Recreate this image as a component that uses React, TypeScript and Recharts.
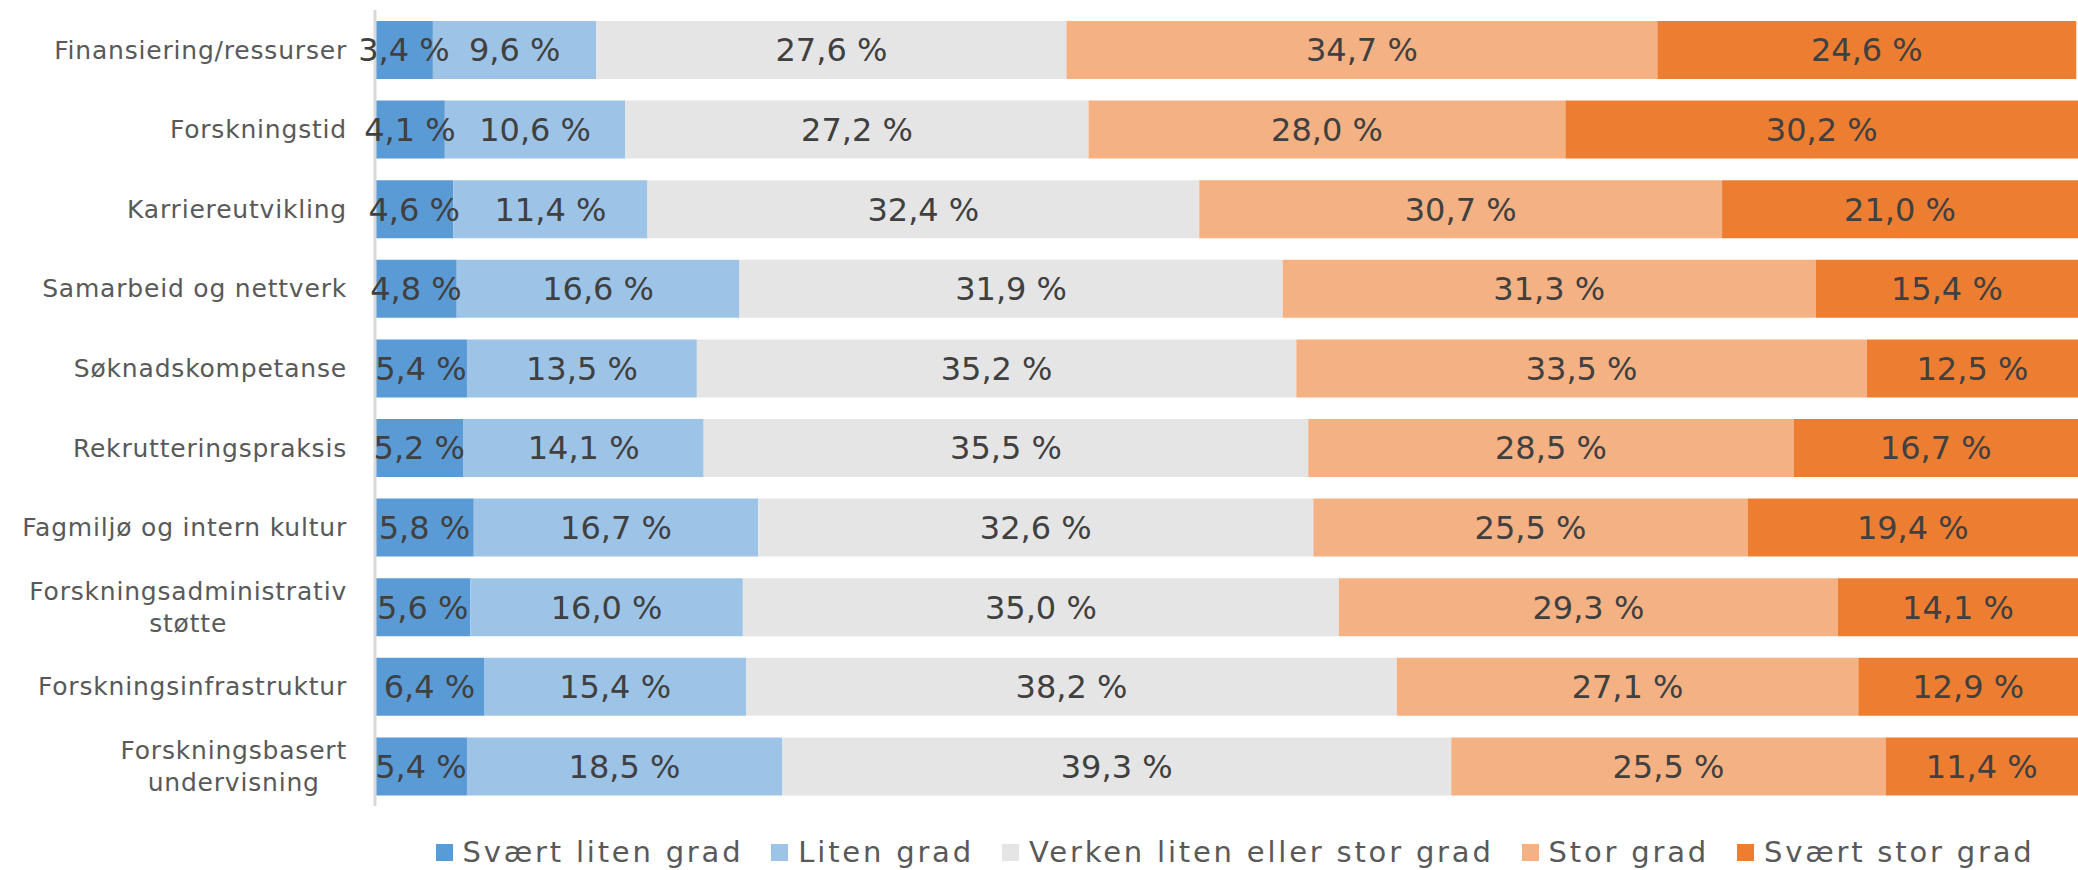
import React from 'react';
import { BarChart, Bar, XAxis, YAxis, LabelList, Legend } from 'recharts';

const categories = [
  'Finansiering/ressurser',
  'Forskningstid',
  'Karriereutvikling',
  'Samarbeid og nettverk',
  'Søknadskompetanse',
  'Rekrutteringspraksis',
  'Fagmiljø og intern kultur',
  'Forskningsadministrativ\nstøtte',
  'Forskningsinfrastruktur',
  'Forskningsbasert\nundervisning',
];

const svaertLitenGrad = [3.4, 4.1, 4.6, 4.8, 5.4, 5.2, 5.8, 5.6, 6.4, 5.4];
const litenGrad = [9.6, 10.6, 11.4, 16.6, 13.5, 14.1, 16.7, 16.0, 15.4, 18.5];
const verkenGrad = [27.6, 27.2, 32.4, 31.9, 35.2, 35.5, 32.6, 35.0, 38.2, 39.3];
const storGrad = [34.7, 28.0, 30.7, 31.3, 33.5, 28.5, 25.5, 29.3, 27.1, 25.5];
const svaertStorGrad = [24.6, 30.2, 21.0, 15.4, 12.5, 16.7, 19.4, 14.1, 12.9, 11.4];

const SERIES = [
  { key: 'svaertLiten', name: 'Svært liten grad', color: '#5B9BD5', values: svaertLitenGrad },
  { key: 'liten', name: 'Liten grad', color: '#9DC3E6', values: litenGrad },
  { key: 'verken', name: 'Verken liten eller stor grad', color: '#E5E5E5', values: verkenGrad },
  { key: 'stor', name: 'Stor grad', color: '#F4B183', values: storGrad },
  { key: 'svaertStor', name: 'Svært stor grad', color: '#ED7D31', values: svaertStorGrad },
];

const data = categories.map((cat, i) => {
  const row: any = { category: cat };
  SERIES.forEach((s) => {
    row[s.key] = s.values[i];
  });
  return row;
});

const FONT = '"DejaVu Sans", sans-serif';
const TICK_SIZE = 25;
const TICK_SPACING = 0.8;

let ctx: CanvasRenderingContext2D | null = null;
const measure = (text: string) => {
  if (!ctx) ctx = document.createElement('canvas').getContext('2d');
  if (!ctx) return text.length * TICK_SIZE * 0.55;
  ctx.font = `${TICK_SIZE}px "DejaVu Sans"`;
  return ctx.measureText(text).width + TICK_SPACING * text.length;
};

const CategoryTick = (props: any) => {
  const { x, y, payload } = props;
  const lines = String(payload.value).split('\n');
  const right = x - 28;
  if (lines.length === 1) {
    return (
      <text x={right} y={y} dy="0.35em" textAnchor="end" fill="#595959"
        fontSize={TICK_SIZE} fontFamily={FONT} letterSpacing={TICK_SPACING}>
        {lines[0]}
      </text>
    );
  }
  const maxW = Math.max(...lines.map(measure));
  const cx = right - maxW / 2;
  const lh = 32;
  return (
    <text textAnchor="middle" fill="#595959" fontSize={TICK_SIZE} fontFamily={FONT}
      letterSpacing={TICK_SPACING}>
      {lines.map((l, i) => (
        <tspan key={i} x={cx} y={y + (i - (lines.length - 1) / 2) * lh} dy="0.35em">
          {l}
        </tspan>
      ))}
    </text>
  );
};

const fmt = (v: any) => `${Number(v).toFixed(1).replace('.', ',')} %`;

// legenden er sentrert under plottet, ikke under hele bildet
const renderLegend = () => (
  <div style={{ height: 64, display: 'flex', justifyContent: 'center', alignItems: 'flex-start', paddingTop: 28, boxSizing: 'border-box', paddingLeft: 420 }}>
    {SERIES.map((s) => (
      <div key={s.key} style={{ display: 'flex', alignItems: 'center', marginRight: 28 }}>
        <span style={{ width: 17, height: 17, background: s.color, display: 'inline-block', marginRight: 10 }} />
        <span style={{ fontFamily: FONT, fontSize: 29, letterSpacing: 2.8, color: '#595959', lineHeight: '36px' }}>
          {s.name}
        </span>
      </div>
    ))}
  </div>
);

export default function App() {
  return (
    <div style={{ position: 'absolute', left: 0, top: 0, width: 2078, height: 870, background: '#fff' }}>
      <BarChart
        width={2078}
        height={870}
        data={data}
        layout="vertical"
        margin={{ top: 10, right: 0, bottom: 0, left: 0 }}
        barSize={58}
      >
        <XAxis type="number" domain={[0, 100]} allowDataOverflow hide />
        <YAxis
          type="category"
          dataKey="category"
          width={375}
          interval={0}
          tickLine={false}
          tickSize={0}
          tickMargin={0}
          axisLine={{ stroke: '#D9D9D9', strokeWidth: 3 }}
          tick={<CategoryTick />}
        />
        <Legend verticalAlign="bottom" height={64} content={renderLegend} />
        {SERIES.map((s) => (
          <Bar key={s.key} dataKey={s.key} name={s.name} stackId="a" fill={s.color} isAnimationActive={false}>
            <LabelList dataKey={s.key} position="center" formatter={fmt} fill="#404040"
              fontSize={32} fontFamily={FONT} />
          </Bar>
        ))}
      </BarChart>
    </div>
  );
}
